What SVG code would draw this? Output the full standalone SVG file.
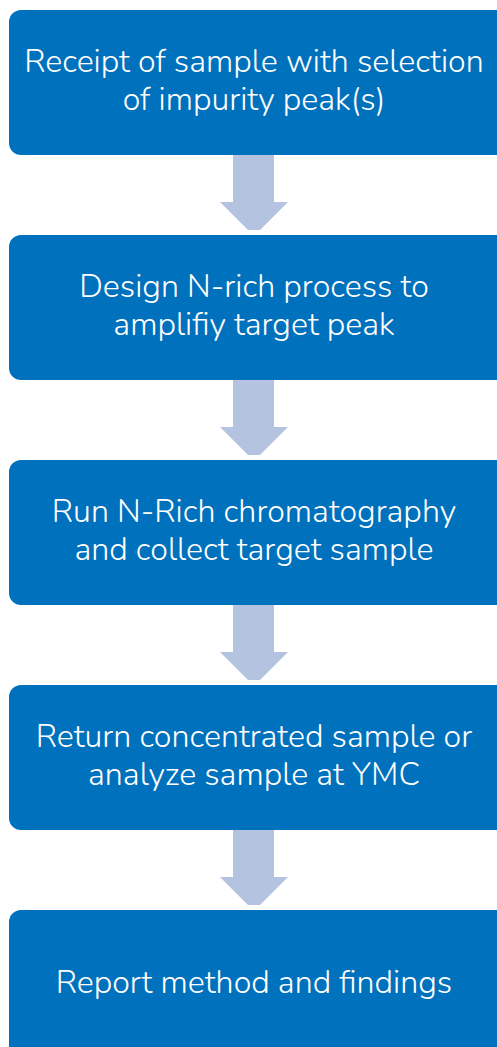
<svg xmlns="http://www.w3.org/2000/svg" width="497" height="1047" viewBox="0 0 497 1047">
<defs>
<style>
.box{fill:#0071BC}
.arr{fill:#B4C4E0}
.t{font-family:"Nunito","Open Sans","Liberation Sans",sans-serif;font-size:32.2px;font-weight:300;fill:#FFFFFF;text-anchor:middle}
</style>
<path id="arrowShape" class="arr" d="M233 0 H274 V48 H288 L260 76 H248 L220 48 H233 Z"/>
</defs>
<rect width="497" height="1047" fill="#FFFFFF"/>
<g id="connectors">
<use href="#arrowShape" y="154"/>
<use href="#arrowShape" y="379"/>
<use href="#arrowShape" y="604"/>
<use href="#arrowShape" y="829"/>
</g>
<g id="n1"><rect class="box" x="9" y="10" width="500" height="145" rx="12"/>
<text class="t" x="254" y="72">Receipt of sample with selection</text>
<text class="t" x="254" y="110">of impurity peak(s)</text></g>
<g id="n2"><rect class="box" x="9" y="235" width="500" height="145" rx="12"/>
<text class="t" x="254" y="297">Design N-rich process to</text>
<text class="t" x="254" y="335">amplifiy target peak</text></g>
<g id="n3"><rect class="box" x="9" y="460" width="500" height="145" rx="12"/>
<text class="t" x="254" y="522">Run N-Rich chromatography</text>
<text class="t" x="254" y="560">and collect target sample</text></g>
<g id="n4"><rect class="box" x="9" y="685" width="500" height="145" rx="12"/>
<text class="t" x="254" y="747">Return concentrated sample or</text>
<text class="t" x="254" y="785">analyze sample at YMC</text></g>
<g id="n5"><rect class="box" x="9" y="910" width="500" height="160" rx="12"/>
<text class="t" x="254" y="993">Report method and findings</text></g>
</svg>
